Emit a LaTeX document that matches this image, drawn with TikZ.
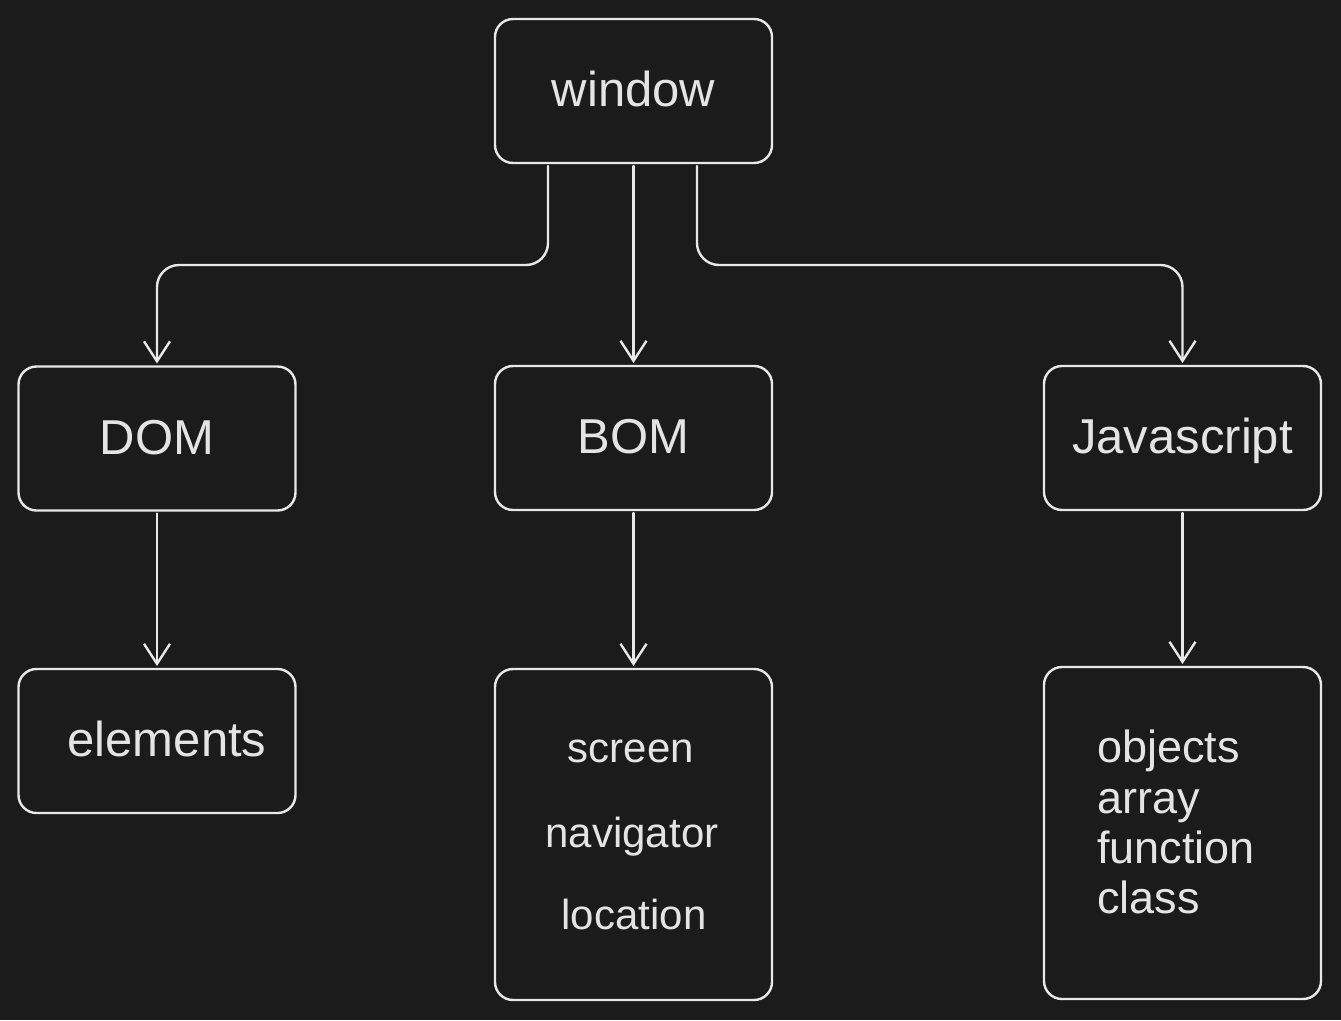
\documentclass[tikz,border=0pt]{standalone}
\usepackage{fontspec}
\setmainfont{Liberation Sans}
\usetikzlibrary{arrows.meta}
\definecolor{bgc}{HTML}{1B1B1B}
\definecolor{inkc}{HTML}{E8E8E8}
\definecolor{txtc}{HTML}{E4E4E4}
\tikzset{
  box/.style={draw=inkc, line width=2.4pt, rounded corners=18pt, minimum width=277pt, inner sep=0pt, outer sep=0pt, text=txtc,
    font=\fontsize{49pt}{59pt}\selectfont, text height=36pt, text depth=5pt},
  lbl/.style={text=txtc, inner sep=0pt, anchor=base},
  conn/.style={draw=inkc, line width=2.4pt, line cap=round, line join=round,
    -{Straight Barb[length=20pt, width=26pt, line width=2.4pt]}, shorten <=3pt, shorten >=3pt}
}
\begin{document}
\begin{tikzpicture}[x=1pt, y=-1pt]
\fill[bgc] (0,0) rectangle (1341,1020);
\useasboundingbox (0,0) rectangle (1341,1020);

\node[box, minimum height=144pt] (window) at (633.5,91) {window};
\node[box, minimum height=144pt] (dom) at (157,438.5) {DOM};
\node[box, minimum height=144pt] (bom) at (633.5,438) {BOM};
\node[box, minimum height=144pt] (js) at (1182.5,438) {Javascript};
\node[box, minimum height=144pt] (elements) at (157,741) {\hspace*{20pt}elements};
\node[box, minimum height=331pt] (bomc) at (633.5,834.5) {};
\node[box, minimum height=332pt] (jsc) at (1182.5,833) {};

\begin{scope}[font=\fontsize{42pt}{50pt}\selectfont]
\node[lbl] (screen) at (631,762) {screen};
\node[lbl] (navigator) at (632,847) {navigator};
\node[lbl] (location) at (634,929) {location};
\end{scope}
\begin{scope}[font=\fontsize{45pt}{50pt}\selectfont]
\node[lbl, anchor=base west] (objects) at (1097,762) {objects};
\node[lbl, anchor=base west] (array) at (1097,813) {array};
\node[lbl, anchor=base west] (function) at (1097,863) {function};
\node[lbl, anchor=base west] (class) at (1097,913) {class};
\end{scope}

\coordinate (wl) at ([xshift=-85.5pt]window.south);
\coordinate (wr) at ([xshift=63.5pt]window.south);
\draw[conn, rounded corners=22pt] (wl) |- (dom.north |- 0,265) -- (dom.north);
\draw[conn] (window.south) -- (bom.north);
\draw[conn, rounded corners=22pt] (wr) |- (js.north |- 0,265) -- (js.north);
\draw[conn] (dom.south) -- (elements.north);
\draw[conn] (bom.south) -- (bomc.north);
\draw[conn] (js.south) -- (jsc.north);
\end{tikzpicture}
\end{document}
